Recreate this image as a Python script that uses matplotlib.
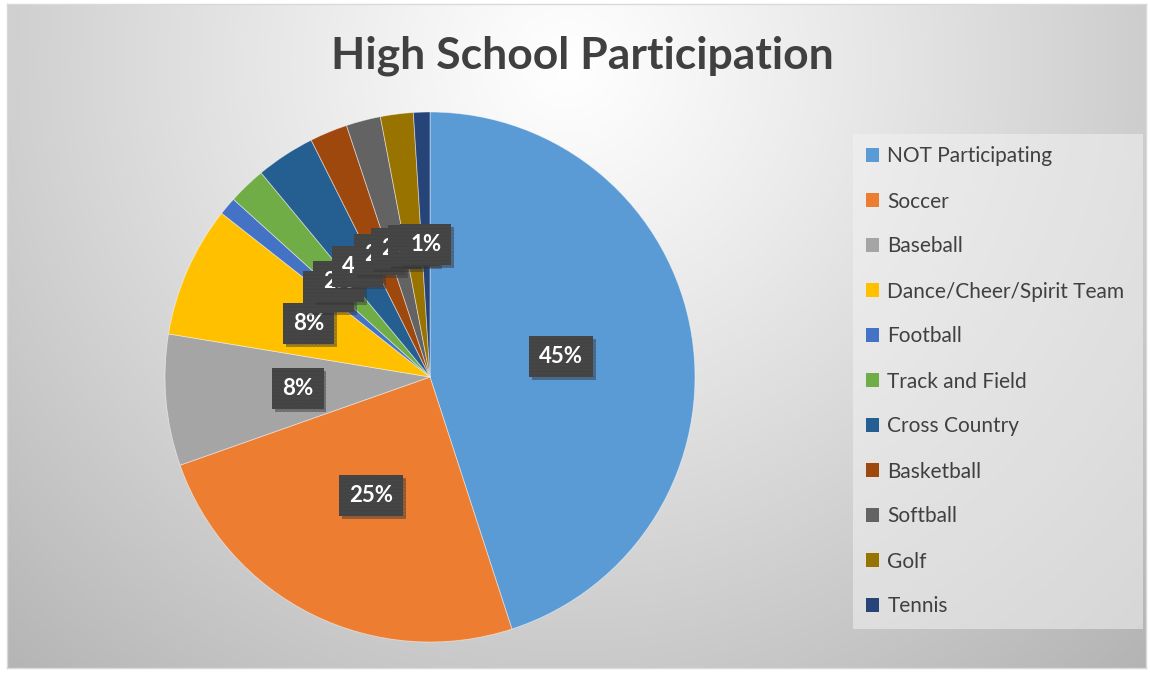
import numpy as np
import matplotlib
matplotlib.use("Agg")
import matplotlib.pyplot as plt
import matplotlib.patheffects as pe

plt.rcParams["font.family"] = ["Lato", "DejaVu Sans"]
plt.rcParams["hatch.linewidth"] = 0.5

# data (percent of students)
activities = [
    "NOT Participating", "Soccer", "Baseball", "Dance/Cheer/Spirit Team",
    "Football", "Track and Field", "Cross Country", "Basketball",
    "Softball", "Golf", "Tennis",
]
shares = [45.0, 24.6, 8.0, 8.0, 1.1, 2.3, 3.6, 2.3, 2.1, 2.0, 1.0]
colors = [
    "#5b9bd5", "#ed7d31", "#a5a5a5", "#ffc000", "#4472c4", "#70ad47",
    "#255e91", "#9e480e", "#636363", "#997300", "#264478",
]

W, H = 1150, 675
fig = plt.figure(figsize=(W / 100, H / 100), dpi=100, facecolor="white")

# chart area background: soft radial gradient
bg = fig.add_axes([7 / W, 1 - 668 / H, 1139 / W, 664 / H], zorder=-5)
yy, xx = np.mgrid[0:664, 0:1139]
d = np.sqrt(((xx - 560) / 700.0) ** 2 + ((yy - 60) / 680.0) ** 2)
shade = 1.0 - 0.24 * np.clip(d, 0, 1.25) ** 1.1
bg.imshow(np.dstack([shade] * 3), aspect="auto", extent=(0, 1, 0, 1))
bg.set_xticks([])
bg.set_yticks([])
for s in bg.spines.values():
    s.set_color("#d9d9d9")
    s.set_linewidth(1)

# pie
cx, cy, r = 430, 377, 265
ax = fig.add_axes([(cx - r) / W, (H - cy - r) / H, 2 * r / W, 2 * r / H])
wedges, texts, autotexts = ax.pie(
    shares,
    colors=colors,
    startangle=90,
    counterclock=False,
    autopct="%1.0f%%",
    pctdistance=0.5,
    wedgeprops=dict(edgecolor=(1, 1, 1, 0.5), linewidth=0.6),
    textprops=dict(color="white", fontsize=16, fontweight="bold"),
)
ax.set_xlim(-1, 1)
ax.set_ylim(-1, 1)
ax.set_aspect("equal")
for t in autotexts:
    t.set_bbox(dict(boxstyle="square,pad=0.45", facecolor="#404040",
                    edgecolor="#4e4e4e", linewidth=0, hatch="." * 12))
    t.get_bbox_patch().set_path_effects([
        pe.SimplePatchShadow(offset=(2, -2), shadow_rgbFace="black", alpha=0.22),
        pe.Normal(),
    ])

fig.text(582 / W, 1 - 56 / H, "High School Participation", ha="center", va="center",
         fontsize=32, fontweight="bold", color="#404040")

leg = fig.legend(
    wedges, activities,
    loc="upper left",
    bbox_to_anchor=(853 / W, 1 - 134 / H, 290 / W, 0.0),
    mode="expand",
    frameon=True,
    fancybox=False,
    fontsize=15,
    labelspacing=1.2,
    handlelength=0.65,
    handleheight=0.65,
    handletextpad=0.4,
    borderpad=0.6,
    borderaxespad=0,
    labelcolor="#404040",
)
frame = leg.get_frame()
frame.set_facecolor("#f2f2f2")
frame.set_alpha(0.55)
frame.set_edgecolor("none")
for h in leg.legend_handles:
    h.set_edgecolor("none")

fig.savefig("out.png", dpi=100, facecolor="white")
